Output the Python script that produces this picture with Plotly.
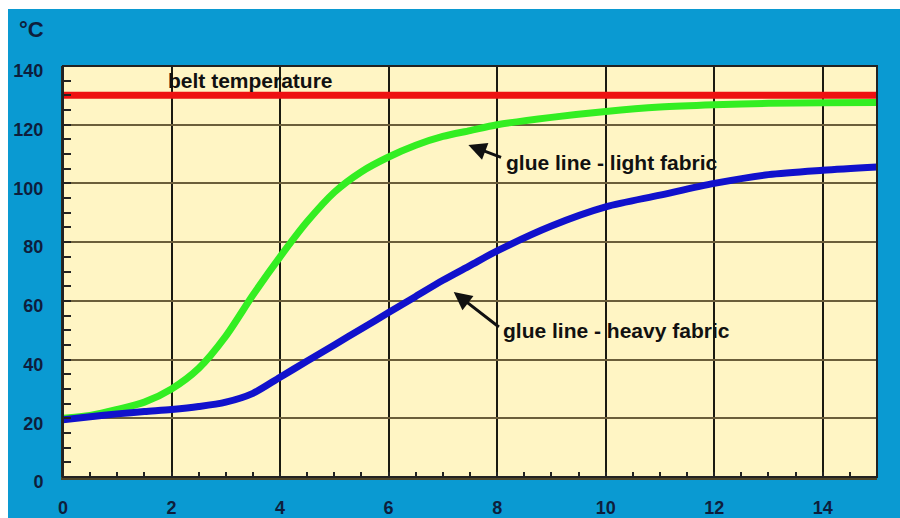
import plotly.graph_objects as go

# Time axis (minutes) and temperatures (°C)
time_min = [0, 0.5, 1, 1.5, 2, 2.5, 3, 3.5, 4, 4.5, 5, 5.5, 6, 6.5, 7, 7.5, 8, 9, 10, 11, 12, 13, 14, 15]
light_fabric = [20, 21, 23, 25.5, 30, 37, 48, 62, 75, 87, 97, 104, 109, 113, 116, 118, 120, 122.5, 124.5, 126, 126.8, 127.3, 127.5, 127.6]
heavy_fabric = [19.5, 20.5, 21.5, 22.3, 23, 24, 25.5, 28.5, 34, 39.5, 45, 50.5, 56, 61.5, 67, 72, 77, 85.5, 92, 96, 100, 103, 104.5, 105.6]
belt_temp = 130

x_ticks = [0, 2, 4, 6, 8, 10, 12, 14]
y_ticks = [0, 20, 40, 60, 80, 100, 120, 140]

BG_BLUE = "#0a9ad2"
PLOT_BG = "#fff5c4"
LABEL = "#0e1e3c"
FONT = "Liberation Sans, Arial, sans-serif"

fig = go.Figure()

fig.add_trace(go.Scatter(x=[0, 15], y=[belt_temp, belt_temp], mode="lines",
                         line=dict(color="#ee1111", width=7), hoverinfo="skip"))
fig.add_trace(go.Scatter(x=time_min, y=light_fabric, mode="lines",
                         line=dict(color="#33ee22", width=7, shape="spline", smoothing=0.8)))
fig.add_trace(go.Scatter(x=time_min, y=heavy_fabric, mode="lines",
                         line=dict(color="#1111cc", width=7, shape="spline", smoothing=0.8)))

# thin white strips along the top and left edges of the blue panel
fig.add_shape(type="rect", xref="paper", yref="paper", x0=-0.2, x1=1.2,
              y0=1 + 57 / 411, y1=1.3, fillcolor="white", line_width=0, layer="below")
fig.add_shape(type="rect", xref="paper", yref="paper", x0=-0.2, x1=-55 / 814,
              y0=-0.2, y1=1.3, fillcolor="white", line_width=0, layer="below")

fig.add_annotation(x=1.89, y=135.2, xanchor="left", yanchor="middle", showarrow=False,
                   text="<b>belt temperature</b>", font=dict(family=FONT, size=21, color="#111"))
fig.add_annotation(x=8.12, y=107.3, xanchor="left", yanchor="middle", showarrow=False,
                   text="<b>glue line - light fabric</b>", font=dict(family=FONT, size=21, color="#111"))
fig.add_annotation(x=8.08, y=50, xanchor="left", yanchor="middle", showarrow=False,
                   text="<b>glue line - heavy fabric</b>", font=dict(family=FONT, size=21, color="#111"))

# arrows pointing at the curves
fig.add_annotation(x=7.47, y=113.1, ax=8.1, ay=108.7, axref="x", ayref="y", xref="x", yref="y",
                   showarrow=True, arrowhead=2, arrowsize=1.2, arrowwidth=3, arrowcolor="#111", text="")
fig.add_annotation(x=7.2, y=63, ax=8.06, ay=50.7, axref="x", ayref="y", xref="x", yref="y",
                   showarrow=True, arrowhead=2, arrowsize=1.2, arrowwidth=3, arrowcolor="#111", text="")

fig.add_annotation(xref="paper", yref="paper", x=-31 / 814, y=1.0, yshift=37, xanchor="center",
                   yanchor="middle", showarrow=False, text="<b>°C</b>",
                   font=dict(family=FONT, size=22, color=LABEL))

fig.update_xaxes(range=[0, 15], tickvals=x_ticks, ticktext=[f"<b>{v}</b>" for v in x_ticks],
                 ticks="", showgrid=True, automargin=False,
                 gridcolor="#1a1a10", gridwidth=1.5, zeroline=False,
                 showline=True, linecolor="#4f4628", linewidth=3, mirror=False,
                 tickfont=dict(family=FONT, size=18, color=LABEL), ticklabelstandoff=12,
                 minor=dict(dtick=0.5, tick0=0, ticks="inside", ticklen=5, tickcolor="#222",
                            tickwidth=2, showgrid=False))
fig.update_yaxes(range=[0, 140], tickvals=y_ticks, ticktext=[f"<b>{v}</b>" for v in y_ticks],
                 ticks="", showgrid=True, automargin=False,
                 gridcolor="#6b5e3a", gridwidth=2, zeroline=False,
                 showline=True, linecolor="#2a2a20", linewidth=2, mirror=False,
                 tickfont=dict(family=FONT, size=18, color=LABEL), ticklabelstandoff=14,
                 ticklabelshift=5,
                 minor=dict(dtick=5, tick0=0, ticks="inside", ticklen=8, tickcolor="#222",
                            tickwidth=2, showgrid=False))

# frame around the plot area
fig.add_shape(type="rect", xref="paper", yref="paper", x0=0, x1=1, y0=0, y1=1,
              line=dict(color="#222", width=2), layer="above")

fig.update_layout(width=900, height=518, showlegend=False,
                  paper_bgcolor=BG_BLUE, plot_bgcolor=PLOT_BG,
                  margin=dict(l=63, r=23, t=66, b=41))

fig.write_html("out.html",
               post_script="document.body.style.margin='0';document.body.style.overflow='hidden';")
